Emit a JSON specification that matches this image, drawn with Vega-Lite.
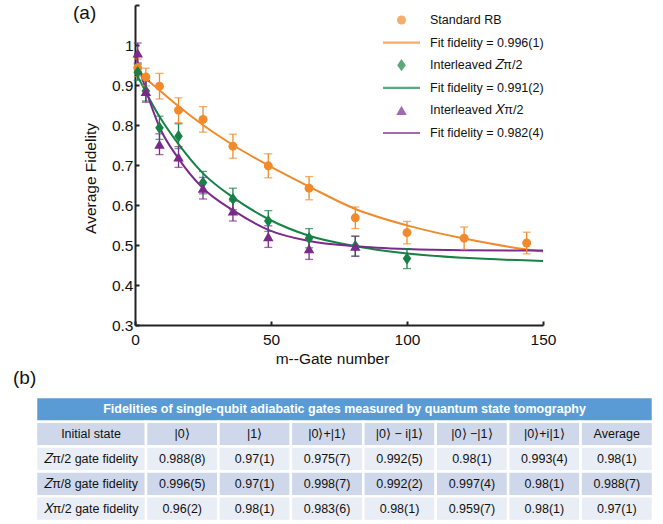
{
  "$schema": "https://vega.github.io/schema/vega-lite/v6.json",
  "padding": {"left": 13, "top": 4, "right": 5, "bottom": 0},
  "bounds": "flush",
  "spacing": 72,
  "config": {
    "font": "Liberation Sans",
    "view": {"stroke": null},
    "axis": {"domainColor": "#222", "domainWidth": 2, "tickColor": "#222", "tickWidth": 2, "labelFontSize": 15.5, "labelColor": "#111", "titleFontSize": 15.5, "titleFontWeight": "normal", "titleColor": "#111", "grid": false},
    "legend": {"title": null, "orient": "none", "legendX": 248, "legendY": 8, "columns": 1, "clipHeight": 14, "symbolStrokeWidth": 0, "labelOffset": 10, "rowPadding": 8.6, "labelFontSize": 12.5, "labelColor": "#111", "padding": 0, "symbolOffset": 0, "labelLimit": 300}
  },
  "datasets": {
    "fit": [
      {"m": 0, "f": 0.950, "s": "Fit fidelity = 0.996(1)"},
      {"m": 4, "f": 0.917, "s": "Fit fidelity = 0.996(1)"},
      {"m": 9, "f": 0.887, "s": "Fit fidelity = 0.996(1)"},
      {"m": 16, "f": 0.847, "s": "Fit fidelity = 0.996(1)"},
      {"m": 25, "f": 0.800, "s": "Fit fidelity = 0.996(1)"},
      {"m": 36, "f": 0.750, "s": "Fit fidelity = 0.996(1)"},
      {"m": 49, "f": 0.699, "s": "Fit fidelity = 0.996(1)"},
      {"m": 64, "f": 0.646, "s": "Fit fidelity = 0.996(1)"},
      {"m": 81, "f": 0.590, "s": "Fit fidelity = 0.996(1)"},
      {"m": 100, "f": 0.549, "s": "Fit fidelity = 0.996(1)"},
      {"m": 121, "f": 0.516, "s": "Fit fidelity = 0.996(1)"},
      {"m": 144, "f": 0.489, "s": "Fit fidelity = 0.996(1)"},
      {"m": 150, "f": 0.484, "s": "Fit fidelity = 0.996(1)"},
      {"m": 0, "f": 0.935, "s": "Fit fidelity = 0.991(2)"},
      {"m": 4, "f": 0.882, "s": "Fit fidelity = 0.991(2)"},
      {"m": 9, "f": 0.821, "s": "Fit fidelity = 0.991(2)"},
      {"m": 16, "f": 0.752, "s": "Fit fidelity = 0.991(2)"},
      {"m": 25, "f": 0.679, "s": "Fit fidelity = 0.991(2)"},
      {"m": 36, "f": 0.619, "s": "Fit fidelity = 0.991(2)"},
      {"m": 49, "f": 0.565, "s": "Fit fidelity = 0.991(2)"},
      {"m": 64, "f": 0.523, "s": "Fit fidelity = 0.991(2)"},
      {"m": 81, "f": 0.497, "s": "Fit fidelity = 0.991(2)"},
      {"m": 100, "f": 0.479, "s": "Fit fidelity = 0.991(2)"},
      {"m": 121, "f": 0.468, "s": "Fit fidelity = 0.991(2)"},
      {"m": 150, "f": 0.460, "s": "Fit fidelity = 0.991(2)"},
      {"m": 0, "f": 0.980, "s": "Fit fidelity = 0.982(4)"},
      {"m": 4, "f": 0.888, "s": "Fit fidelity = 0.982(4)"},
      {"m": 9, "f": 0.795, "s": "Fit fidelity = 0.982(4)"},
      {"m": 16, "f": 0.716, "s": "Fit fidelity = 0.982(4)"},
      {"m": 25, "f": 0.642, "s": "Fit fidelity = 0.982(4)"},
      {"m": 36, "f": 0.587, "s": "Fit fidelity = 0.982(4)"},
      {"m": 49, "f": 0.538, "s": "Fit fidelity = 0.982(4)"},
      {"m": 64, "f": 0.510, "s": "Fit fidelity = 0.982(4)"},
      {"m": 81, "f": 0.497, "s": "Fit fidelity = 0.982(4)"},
      {"m": 100, "f": 0.490, "s": "Fit fidelity = 0.982(4)"},
      {"m": 121, "f": 0.487, "s": "Fit fidelity = 0.982(4)"},
      {"m": 150, "f": 0.486, "s": "Fit fidelity = 0.982(4)"}
    ],
    "pts": [
      {"m": 1, "f": 0.943, "e": 0.022, "s": "Standard RB"},
      {"m": 4, "f": 0.920, "e": 0.022, "s": "Standard RB"},
      {"m": 9, "f": 0.897, "e": 0.032, "s": "Standard RB"},
      {"m": 16, "f": 0.837, "e": 0.031, "s": "Standard RB"},
      {"m": 25, "f": 0.814, "e": 0.032, "s": "Standard RB"},
      {"m": 36, "f": 0.747, "e": 0.030, "s": "Standard RB"},
      {"m": 49, "f": 0.698, "e": 0.030, "s": "Standard RB"},
      {"m": 64, "f": 0.642, "e": 0.029, "s": "Standard RB"},
      {"m": 81, "f": 0.568, "e": 0.027, "s": "Standard RB"},
      {"m": 100, "f": 0.531, "e": 0.028, "s": "Standard RB"},
      {"m": 121, "f": 0.517, "e": 0.028, "s": "Standard RB"},
      {"m": 144, "f": 0.505, "e": 0.027, "s": "Standard RB"},
      {"m": 1, "f": 0.932, "e": 0.020, "s": "Interleaved 𝑍π/2"},
      {"m": 4, "f": 0.885, "e": 0.025, "s": "Interleaved 𝑍π/2"},
      {"m": 9, "f": 0.793, "e": 0.029, "s": "Interleaved 𝑍π/2"},
      {"m": 16, "f": 0.772, "e": 0.031, "s": "Interleaved 𝑍π/2"},
      {"m": 25, "f": 0.656, "e": 0.028, "s": "Interleaved 𝑍π/2"},
      {"m": 36, "f": 0.615, "e": 0.027, "s": "Interleaved 𝑍π/2"},
      {"m": 49, "f": 0.560, "e": 0.026, "s": "Interleaved 𝑍π/2"},
      {"m": 64, "f": 0.517, "e": 0.024, "s": "Interleaved 𝑍π/2"},
      {"m": 81, "f": 0.497, "e": 0.025, "s": "Interleaved 𝑍π/2"},
      {"m": 100, "f": 0.466, "e": 0.025, "s": "Interleaved 𝑍π/2"},
      {"m": 1, "f": 0.980, "e": 0.025, "s": "Interleaved 𝑋π/2"},
      {"m": 4, "f": 0.884, "e": 0.027, "s": "Interleaved 𝑋π/2"},
      {"m": 9, "f": 0.752, "e": 0.026, "s": "Interleaved 𝑋π/2"},
      {"m": 16, "f": 0.720, "e": 0.026, "s": "Interleaved 𝑋π/2"},
      {"m": 25, "f": 0.642, "e": 0.027, "s": "Interleaved 𝑋π/2"},
      {"m": 36, "f": 0.585, "e": 0.025, "s": "Interleaved 𝑋π/2"},
      {"m": 49, "f": 0.521, "e": 0.027, "s": "Interleaved 𝑋π/2"},
      {"m": 64, "f": 0.491, "e": 0.027, "s": "Interleaved 𝑋π/2"},
      {"m": 81, "f": 0.497, "e": 0.025, "s": "Interleaved 𝑋π/2"}
    ],
    "ttl": [{"r": 0, "t": "Fidelities of single-qubit adiabatic gates measured by quantum state tomography"}],
    "cells": [
      {"r": 1, "c": 0, "t": "Initial state"},
      {"r": 1, "c": 1, "t": "|0⟩"},
      {"r": 1, "c": 2, "t": "|1⟩"},
      {"r": 1, "c": 3, "t": "|0⟩+|1⟩"},
      {"r": 1, "c": 4, "t": "|0⟩ − i|1⟩"},
      {"r": 1, "c": 5, "t": "|0⟩ −|1⟩"},
      {"r": 1, "c": 6, "t": "|0⟩+i|1⟩"},
      {"r": 1, "c": 7, "t": "Average"},
      {"r": 2, "c": 0, "t": "𝑍π/2 gate fidelity"},
      {"r": 2, "c": 1, "t": "0.988(8)"},
      {"r": 2, "c": 2, "t": "0.97(1)"},
      {"r": 2, "c": 3, "t": "0.975(7)"},
      {"r": 2, "c": 4, "t": "0.992(5)"},
      {"r": 2, "c": 5, "t": "0.98(1)"},
      {"r": 2, "c": 6, "t": "0.993(4)"},
      {"r": 2, "c": 7, "t": "0.98(1)"},
      {"r": 3, "c": 0, "t": "𝑍π/8 gate fidelity"},
      {"r": 3, "c": 1, "t": "0.996(5)"},
      {"r": 3, "c": 2, "t": "0.97(1)"},
      {"r": 3, "c": 3, "t": "0.998(7)"},
      {"r": 3, "c": 4, "t": "0.992(2)"},
      {"r": 3, "c": 5, "t": "0.997(4)"},
      {"r": 3, "c": 6, "t": "0.98(1)"},
      {"r": 3, "c": 7, "t": "0.988(7)"},
      {"r": 4, "c": 0, "t": "𝑋π/2 gate fidelity"},
      {"r": 4, "c": 1, "t": "0.96(2)"},
      {"r": 4, "c": 2, "t": "0.98(1)"},
      {"r": 4, "c": 3, "t": "0.983(6)"},
      {"r": 4, "c": 4, "t": "0.98(1)"},
      {"r": 4, "c": 5, "t": "0.959(7)"},
      {"r": 4, "c": 6, "t": "0.98(1)"},
      {"r": 4, "c": 7, "t": "0.97(1)"}
    ]
  },
  "vconcat": [
    {
      "width": 408,
      "height": 320,
      "title": {"text": "(a)", "anchor": "start", "frame": "group", "dx": -62, "offset": -34, "fontSize": 19, "fontWeight": "normal", "baseline": "alphabetic", "color": "#111"},
      "encoding": {
        "x": {"field": "m", "type": "quantitative", "scale": {"domain": [0, 150], "nice": false, "zero": false},
          "axis": {"values": [0, 50, 100, 150], "tickSize": -4, "labelPadding": 11, "labelFlush": false, "title": "m--Gate number", "titleX": 197, "titleY": 38, "titleBaseline": "alphabetic"}},
        "y": {"field": "f", "type": "quantitative", "scale": {"domain": [0.3, 1.1], "nice": false, "zero": false},
          "axis": {"values": [0.3, 0.4, 0.5, 0.6, 0.7, 0.8, 0.9, 1.0, 1.1], "tickSize": -4, "labelPadding": 6, "labelAlign": "right", "labelExpr": "datum.value > 1.05 ? '' : format(datum.value, '.1~f')", "title": "Average Fidelity", "titleX": -37, "titleY": 173, "titleBaseline": "bottom"}}
      },
      "layer": [
        {
          "data": {"name": "fit"},
          "mark": {"type": "line", "interpolate": "monotone", "strokeWidth": 2},
          "encoding": {
            "color": {"field": "s", "type": "nominal",
              "scale": {"domain": ["Standard RB", "Fit fidelity = 0.996(1)", "Interleaved 𝑍π/2", "Fit fidelity = 0.991(2)", "Interleaved 𝑋π/2", "Fit fidelity = 0.982(4)"], "range": ["#F18A2A", "#F18A2A", "#168245", "#168245", "#7B2A8B", "#7B2A8B"]}}
          }
        },
        {
          "data": {"name": "pts"},
          "mark": {"type": "errorbar", "thickness": 1.3, "ticks": {"size": 8}},
          "encoding": {
            "yError": {"field": "e"},
            "color": {"field": "s", "type": "nominal"}
          }
        },
        {
          "data": {"name": "pts"},
          "mark": {"type": "point", "filled": true, "opacity": 1},
          "encoding": {
            "color": {"field": "s", "type": "nominal"},
            "shape": {"field": "s", "type": "nominal",
              "scale": {"domain": ["Standard RB", "Fit fidelity = 0.996(1)", "Interleaved 𝑍π/2", "Fit fidelity = 0.991(2)", "Interleaved 𝑋π/2", "Fit fidelity = 0.982(4)"], "range": ["circle", "M-1,-0.06L1,-0.06L1,0.06L-1,0.06Z", "M0,-1.35L0.95,0L0,1.35L-0.95,0Z", "M-1,-0.06L1,-0.06L1,0.06L-1,0.06Z", "triangle-up", "M-1,-0.06L1,-0.06L1,0.06L-1,0.06Z"]}},
            "size": {"field": "s", "type": "nominal",
              "scale": {"type": "ordinal", "domain": ["Standard RB", "Fit fidelity = 0.996(1)", "Interleaved 𝑍π/2", "Fit fidelity = 0.991(2)", "Interleaved 𝑋π/2", "Fit fidelity = 0.982(4)"], "range": [80, 1369, 82, 1369, 110, 1369]}}
          }
        }
      ]
    },
    {
      "width": 419,
      "height": 124,
      "title": {"text": "(b)", "anchor": "start", "frame": "group", "dx": -122, "offset": -7, "fontSize": 19, "fontWeight": "normal", "baseline": "alphabetic", "color": "#111"},
      "encoding": {
        "y": {"field": "r", "type": "ordinal", "axis": null, "scale": {"type": "band", "domain": [0, 1, 2, 3, 4], "paddingInner": 0, "paddingOuter": 0}}
      },
      "layer": [
        {
          "data": {"name": "ttl"},
          "mark": {"type": "rect", "fill": "#5B9BD5", "stroke": "white", "strokeWidth": 2.5},
          "encoding": {
            "x": {"datum": -0.5, "type": "quantitative", "axis": null, "scale": {"type": "linear", "domain": [-0.5, 0.5, 7.5], "range": [-99, 11, 518], "zero": false, "nice": false}},
            "x2": {"datum": 7.5}
          }
        },
        {
          "data": {"name": "ttl"},
          "mark": {"type": "text", "color": "white", "fontWeight": "bold", "fontSize": 12.5},
          "encoding": {"text": {"field": "t"}}
        },
        {
          "data": {"name": "cells"},
          "transform": [{"filter": "datum.c == 0"}],
          "mark": {"type": "rect", "xOffset": -55, "x2Offset": 55, "stroke": "white", "strokeWidth": 2.5},
          "encoding": {
            "x": {"field": "c", "type": "quantitative"},
            "x2": {"field": "c"},
            "color": {"condition": {"test": "datum.r == 1 || datum.r == 3", "value": "#CFD8EA"}, "value": "#E9EDF5"}
          }
        },
        {
          "data": {"name": "cells"},
          "transform": [{"filter": "datum.c > 0"}],
          "mark": {"type": "rect", "xOffset": -36.21, "x2Offset": 36.21, "stroke": "white", "strokeWidth": 2.5},
          "encoding": {
            "x": {"field": "c", "type": "quantitative"},
            "x2": {"field": "c"},
            "color": {"condition": {"test": "datum.r == 1 || datum.r == 3", "value": "#CFD8EA"}, "value": "#E9EDF5"}
          }
        },
        {
          "data": {"name": "cells"},
          "mark": {"type": "text", "fontSize": 12.5, "color": "#111"},
          "encoding": {
            "x": {"field": "c", "type": "quantitative"},
            "text": {"field": "t"}
          }
        }
      ]
    }
  ]
}
